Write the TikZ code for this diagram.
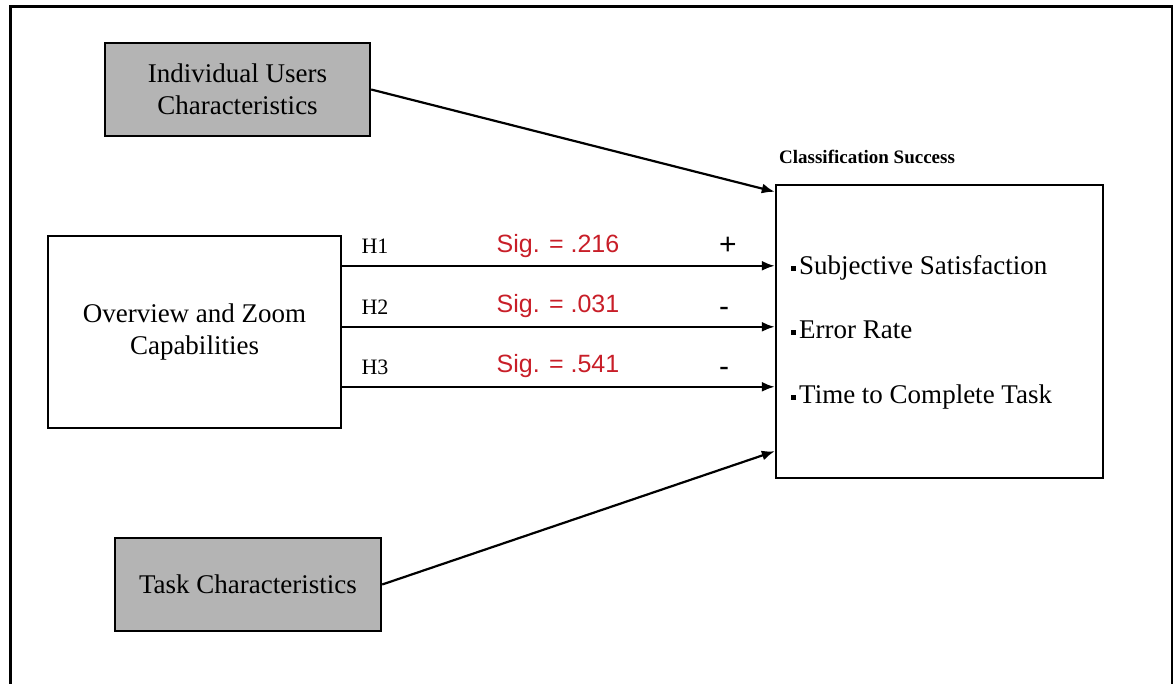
\documentclass[tikz,border=0pt]{standalone}
\usepackage{fontspec}
\setmainfont{Liberation Serif}
\newfontfamily\arialfont{Liberation Sans}
\usetikzlibrary{arrows.meta,calc}
\definecolor{boxgray}{RGB}{180,180,180}
\definecolor{sigred}{RGB}{200,30,40}
\newcommand{\sqbullet}{\rule[0.3ex]{5pt}{5pt}\hspace{3pt}}

\begin{document}
\begin{tikzpicture}
  [x=1pt,y=-1pt,
   every node/.style={font=\fontsize{27}{32}\selectfont,inner sep=0pt},
   box/.style={draw,line width=2.4pt,align=center},
   graybox/.style={box,fill=boxgray},
   arr/.style={line width=2.2pt,-{Latex[length=13pt,width=10pt]}},
   hyp/.style={font=\fontsize{22}{26}\selectfont},
   sig/.style={text=sigred,font=\arialfont\fontsize{25}{30}\selectfont},
   sign/.style={font=\arialfont\fontsize{30}{30}\selectfont}]
    \useasboundingbox (0,0) rectangle (1173,683);
    \draw[line width=3pt] (10,700) -- (10,6) -- (1172,6) -- (1172,700);

    \node (ind)  [graybox,minimum width=265,minimum height=93] at (237.5,89.5) {Individual Users\\Characteristics};
    \node (ovz)  [box,minimum width=293,minimum height=192]   at (194.5,332)  {Overview and Zoom\\Capabilities};
    \node (task) [graybox,minimum width=266,minimum height=93] at (248,584.5)  {Task Characteristics};
    \node (cs)   [box,minimum width=327,minimum height=293]   at (939.5,331.5) {};

    \node (cstitle) [anchor=west,font=\bfseries\fontsize{19}{22}\selectfont] at (779,157) {Classification Success};
    \node (sat)  [anchor=west] at (791,268) {\sqbullet Subjective Satisfaction};
    \node (err)  [anchor=west] at (791,330) {\sqbullet Error Rate};
    \node (time) [anchor=west] at (791,397) {\sqbullet Time to Complete Task};

    \coordinate (in1) at ($(cs.north west)+(0,82)$);
    \coordinate (in2) at ($(cs.north west)+(0,143)$);
    \coordinate (in3) at ($(cs.north west)+(0,203)$);
    \coordinate (inind)  at ($(cs.north west)+(0,8)$);
    \coordinate (intask) at ($(cs.south west)+(0,-28)$);

    \foreach \i in {1,2,3}
      \draw[arr] (ovz.east |- in\i) -- (in\i);
    \draw[arr] (ind.east) -- (inind);
    \draw[arr] (task.east) -- (intask);

    \node (h1) [hyp] at (375,246) {H1};
    \node (h2) [hyp] at (375,307) {H2};
    \node (h3) [hyp] at (375,367) {H3};

    \node (sig1) [sig] at (558,246) {Sig. = .216};
    \node (sig2) [sig] at (558,306) {Sig. = .031};
    \node (sig3) [sig] at (558,366) {Sig. = .541};

    \node (s1) [sign] at (728,246) {+};
    \node (s2) [sign] at (724,312) {-};
    \node (s3) [sign] at (724,372) {-};
  \end{tikzpicture}
\end{document}
